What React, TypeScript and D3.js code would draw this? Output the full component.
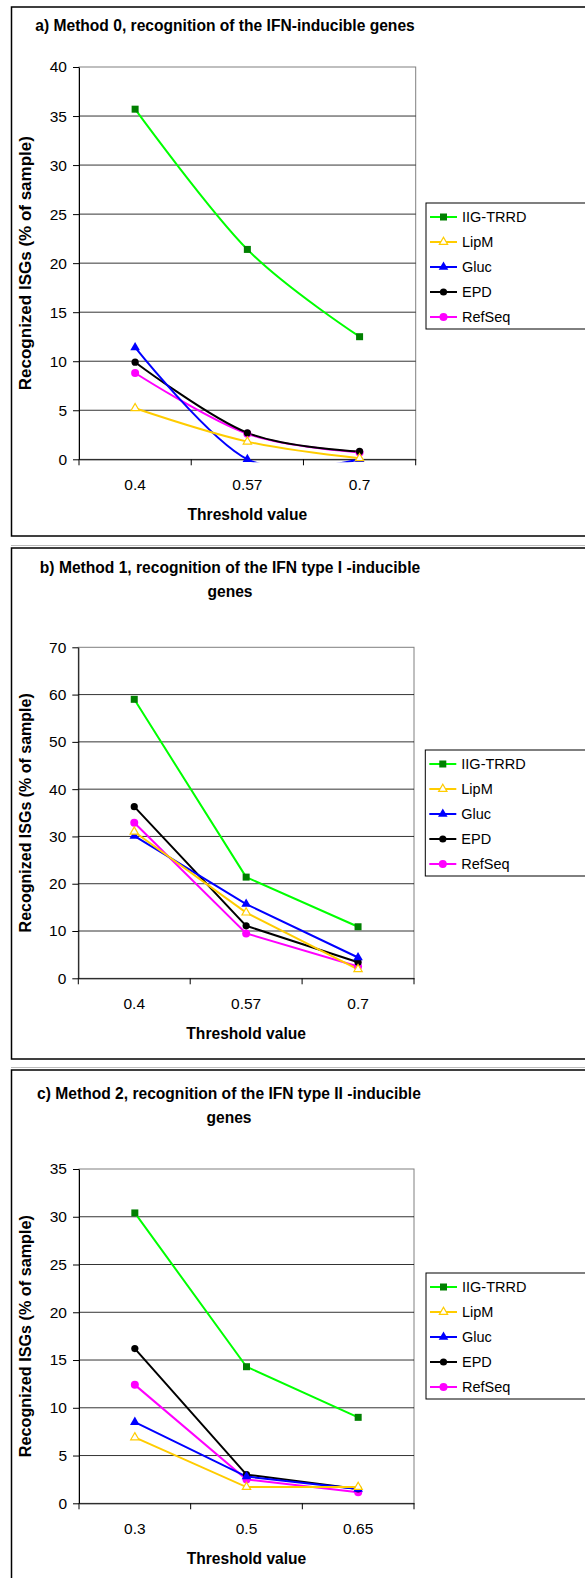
import React, { useRef, useEffect } from 'react'
import * as d3 from 'd3'

// series names + colours
const seriesNames = ['IIG-TRRD', 'LipM', 'Gluc', 'EPD', 'RefSeq']
const lineColors = ['#00ff00', '#ffcc00', '#0000ff', '#000000', '#ff00ff']

// a) Method 0
const catsA = ['0.4', '0.57', '0.7']
const iigA = [35.7, 21.4, 12.5]
const lipmA = [5.2, 1.8, 0.1]
const glucA = [11.4, 0, 0]
const epdA = [9.9, 2.7, 0.8]
const refseqA = [8.8, 2.6, 0.7]

// b) Method 1
const catsB = ['0.4', '0.57', '0.7']
const iigB = [59, 21.4, 10.9]
const lipmB = [31, 13.9, 1.9]
const glucB = [30.1, 15.7, 4.4]
const epdB = [36.3, 11.1, 3.4]
const refseqB = [32.9, 9.5, 2.5]

// c) Method 2
const catsC = ['0.3', '0.5', '0.65']
const iigC = [30.4, 14.3, 9.0]
const lipmC = [6.9, 1.7, 1.7]
const glucC = [8.5, 2.8, 1.5]
const epdC = [16.2, 3.0, 1.5]
const refseqC = [12.4, 2.5, 1.15]

const titleA = ['a) Method 0, recognition of the IFN-inducible genes']
const titleB = ['b) Method 1, recognition of the IFN type I -inducible', 'genes']
const titleC = ['c) Method 2, recognition of the IFN type II -inducible', 'genes']

const panels = [
  { key: 'a', title: titleA, titleX: 225, titleY: 26, cats: catsA, vals: [iigA, lipmA, glucA, epdA, refseqA],
    yMax: 40, yStep: 5, smooth: true, fTop: 7, fBot: 536, l: 79, t: 67, r: 415.7, b: 459.3, legTop: 203, ytSize: 17 },
  { key: 'b', title: titleB, titleX: 230, titleY: 568, cats: catsB, vals: [iigB, lipmB, glucB, epdB, refseqB],
    yMax: 70, yStep: 10, smooth: false, fTop: 548, fBot: 1059, l: 78.3, t: 647.3, r: 414, b: 978.3, legTop: 750, ytSize: 16 },
  { key: 'c', title: titleC, titleX: 229, titleY: 1094, cats: catsC, vals: [iigC, lipmC, glucC, epdC, refseqC],
    yMax: 35, yStep: 5, smooth: false, fTop: 1070, fBot: 1600, l: 79, t: 1169, r: 414, b: 1503.3, legTop: 1273, ytSize: 16.2 },
]

const font = 'Liberation Sans, Arial, sans-serif'

function marker(g: any, i: number, x: number, y: number) {
  if (i === 0) {
    g.append('rect').attr('x', x - 3.5).attr('y', y - 3.5).attr('width', 7).attr('height', 7)
      .attr('fill', '#008000')
  } else if (i === 1) {
    g.append('path').attr('d', d3.symbol(d3.symbolTriangle, 30)()).attr('transform', `translate(${x},${y})`)
      .attr('fill', '#fff').attr('stroke', '#ffcc00').attr('stroke-width', 1.2)
  } else if (i === 2) {
    g.append('path').attr('d', d3.symbol(d3.symbolTriangle, 40)()).attr('transform', `translate(${x},${y})`)
      .attr('fill', '#0000ff')
  } else {
    g.append('circle').attr('cx', x).attr('cy', y).attr('r', i === 4 ? 4 : 3.6)
      .attr('fill', lineColors[i])
  }
}

const App = () => {
  const svgRef = useRef<SVGSVGElement>(null)
  useEffect(() => {
    const svg = d3.select(svgRef.current)
    svg.selectAll('*').remove()
    svg.append('rect').attr('width', 585).attr('height', 1578).attr('fill', '#fff')
    // thin grey separators between the frames
    svg.append('line').attr('x1', 11).attr('x2', 585).attr('y1', 545.5).attr('y2', 545.5).attr('stroke', '#bbb')
    svg.append('line').attr('x1', 11).attr('x2', 585).attr('y1', 1067.5).attr('y2', 1067.5).attr('stroke', '#bbb')

    panels.forEach(p => {
      const g = svg.append('g')
      g.append('rect').attr('x', 11.5).attr('y', p.fTop).attr('width', 600).attr('height', p.fBot - p.fTop)
        .attr('fill', 'none').attr('stroke', '#000').attr('stroke-width', 1.5)

      p.title.forEach((s, i) => {
        g.append('text').attr('x', p.titleX).attr('y', p.titleY + i * 24).attr('dy', '0.35em')
          .attr('text-anchor', 'middle').attr('font-family', font).attr('font-weight', 'bold')
          .attr('font-size', 15.6).text(s)
      })

      const x = d3.scaleBand().domain(p.cats).range([p.l, p.r]).paddingInner(0).paddingOuter(0)
      const y = d3.scaleLinear().domain([0, p.yMax]).range([p.b, p.t])
      const ticks = d3.range(0, p.yMax + 0.001, p.yStep)

      // plot frame (grey top/right)
      g.append('rect').attr('x', p.l).attr('y', p.t).attr('width', p.r - p.l).attr('height', p.b - p.t)
        .attr('fill', 'none').attr('stroke', '#808080').attr('stroke-width', 1)
      g.selectAll('.grid').data(ticks.slice(1, -1)).join('line')
        .attr('x1', p.l).attr('x2', p.r).attr('y1', d => y(d)).attr('y2', d => y(d))
        .attr('stroke', '#000').attr('stroke-width', 0.8)

      const yAxis = d3.axisLeft(y).tickValues(ticks).tickSize(6).tickPadding(6).tickSizeOuter(0)
      const ya = g.append('g').attr('transform', `translate(${p.l},0)`).call(yAxis)
      ya.select('.domain').attr('stroke', '#000')
      ya.selectAll('text').attr('font-family', font).attr('font-size', 15.5).attr('fill', '#000')

      const xAxis = d3.axisBottom(x).tickSize(0).tickPadding(20)
      const xa = g.append('g').attr('transform', `translate(0,${p.b})`).call(xAxis)
      xa.select('.domain').attr('stroke', '#000')
      xa.selectAll('text').attr('font-family', font).attr('font-size', 15.5).attr('fill', '#000')
      const bounds = p.cats.map(c => x(c)!).concat([p.r])
      g.selectAll('.xt').data(bounds).join('line')
        .attr('x1', d => d).attr('x2', d => d).attr('y1', p.b).attr('y2', p.b + 6).attr('stroke', '#000')

      g.append('text').attr('x', x(p.cats[1])! + x.bandwidth() / 2).attr('y', p.b + 55).attr('dy', '0.35em')
        .attr('text-anchor', 'middle').attr('font-family', font).attr('font-weight', 'bold')
        .attr('font-size', 15.6).text('Threshold value')
      g.append('text').attr('transform', `translate(25,${(p.t + p.b) / 2}) rotate(-90)`).attr('dy', '0.35em')
        .attr('text-anchor', 'middle').attr('font-family', font).attr('font-weight', 'bold')
        .attr('font-size', p.ytSize).text('Recognized ISGs (% of sample)')

      const clipId = 'clip-' + p.key
      g.append('clipPath').attr('id', clipId).append('rect')
        .attr('x', p.l).attr('y', p.t).attr('width', p.r - p.l).attr('height', p.b - p.t + 3)
      const cx = (c: string) => x(c)! + x.bandwidth() / 2
      const line = d3.line<number>().x((d, i) => cx(p.cats[i])).y(d => y(d))
        .curve(p.smooth ? d3.curveCatmullRom.alpha(0) : d3.curveLinear)

      const draw = [4, 3, 2, 1, 0]
      draw.forEach(si => {
        g.append('path').attr('d', line(p.vals[si])).attr('clip-path', `url(#${clipId})`)
          .attr('fill', 'none').attr('stroke', lineColors[si]).attr('stroke-width', 2)
      })
      draw.forEach(si => {
        p.vals[si].forEach((v, i) => marker(g, si, cx(p.cats[i]), y(v)))
      })

      // legend
      const lg = g.append('g')
      lg.append('rect').attr('x', p.l + 347).attr('y', p.legTop).attr('width', 200).attr('height', 126)
        .attr('fill', '#fff').attr('stroke', '#000').attr('stroke-width', 1)
      seriesNames.forEach((n, i) => {
        const ly = p.legTop + 14 + i * 25
        const lx = p.l + 351
        lg.append('line').attr('x1', lx).attr('x2', lx + 27).attr('y1', ly).attr('y2', ly)
          .attr('stroke', lineColors[i]).attr('stroke-width', 2)
        marker(lg, i, lx + 13.5, ly)
        lg.append('text').attr('x', lx + 32).attr('y', ly).attr('dy', '0.35em')
          .attr('font-family', font).attr('font-size', 14.5).text(n)
      })
    })
  }, [])

  return (
    <svg ref={svgRef} width={585} height={1578} style={{ position: 'absolute', left: 0, top: 0 }} />
  )
}

export default App
